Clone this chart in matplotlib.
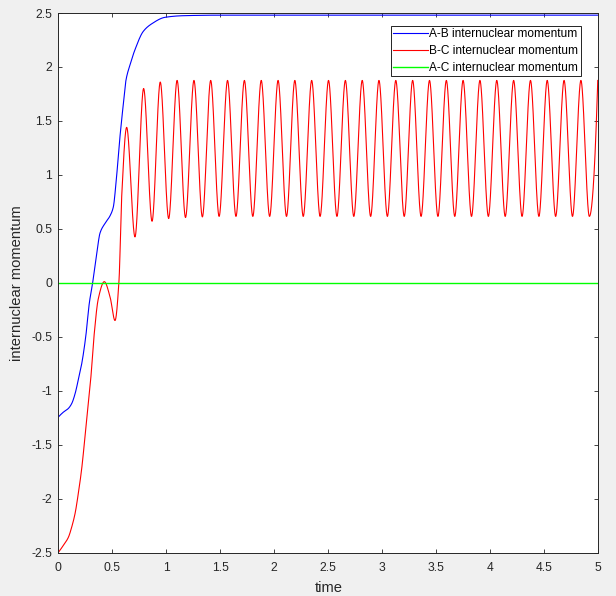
import numpy as np
import matplotlib
matplotlib.use("Agg")
import matplotlib.pyplot as plt

# ---------------- data ----------------
# A-B internuclear momentum (blue): knot points (time, value)
ab_t = [0.0, 0.046, 0.093, 0.124, 0.155, 0.185, 0.217, 0.254, 0.287, 0.318,
        0.356, 0.386, 0.432, 0.479, 0.509, 0.534, 0.565, 0.596, 0.627, 0.664,
        0.710, 0.787, 0.865, 0.988, 1.157, 1.5, 5.0]
ab_v = [-1.245, -1.20, -1.165, -1.12, -1.03, -0.90, -0.75, -0.50, -0.19, 0.0,
        0.27, 0.46, 0.55, 0.62, 0.70, 0.92, 1.29, 1.60, 1.88, 2.02,
        2.16, 2.33, 2.40, 2.46, 2.475, 2.48, 2.48]

# B-C internuclear momentum (red): early part knots
bc_early_t = [0.0, 0.046, 0.093, 0.124, 0.155, 0.185, 0.217, 0.247, 0.278,
              0.303, 0.333, 0.370, 0.426, 0.479, 0.525, 0.562, 0.587]
bc_early_v = [-2.5, -2.435, -2.36, -2.265, -2.14, -1.955, -1.72, -1.43, -1.13,
              -0.86, -0.47, -0.15, 0.01, -0.13, -0.35, 0.02, 0.80]
# B-C oscillation maxima
bc_peak_t = [0.633, 0.79, 0.944, 1.100, 1.256, 1.411, 1.567, 1.723, 1.879,
             2.035, 2.190, 2.346, 2.502, 2.658, 2.814, 2.969, 3.125, 3.281,
             3.437, 3.593, 3.748, 3.904, 4.060, 4.216, 4.372, 4.527, 4.683,
             4.839, 4.995]
bc_peak_v = [1.44, 1.80, 1.86, 1.875, 1.875, 1.875, 1.875, 1.875, 1.875,
             1.875, 1.875, 1.875, 1.875, 1.875, 1.875, 1.875, 1.875, 1.875,
             1.875, 1.875, 1.875, 1.875, 1.875, 1.875, 1.875, 1.875, 1.875,
             1.875, 1.875]
# B-C oscillation minima
bc_trough_t = [0.710, 0.868, 1.022, 1.178, 1.334, 1.489, 1.645, 1.801, 1.957,
               2.113, 2.268, 2.424, 2.580, 2.736, 2.892, 3.047, 3.203, 3.359,
               3.515, 3.671, 3.826, 3.982, 4.138, 4.294, 4.450, 4.605, 4.761,
               4.917]
bc_trough_v = [0.425, 0.57, 0.595, 0.605, 0.61, 0.615, 0.615, 0.615, 0.615,
               0.615, 0.615, 0.615, 0.615, 0.615, 0.615, 0.615, 0.615, 0.615,
               0.615, 0.615, 0.615, 0.615, 0.615, 0.615, 0.615, 0.615, 0.615,
               0.615]

# A-C internuclear momentum (green)
ac_t = [0.0, 5.0]
ac_v = [0.0, 0.0]

x_ticks = [0, 0.5, 1, 1.5, 2, 2.5, 3, 3.5, 4, 4.5, 5]
x_labels = ["0", "0.5", "1", "1.5", "2", "2.5", "3", "3.5", "4", "4.5", "5"]
y_ticks = [-2.5, -2, -1.5, -1, -0.5, 0, 0.5, 1, 1.5, 2, 2.5]
y_labels = ["-2.5", "-2", "-1.5", "-1", "-0.5", "0", "0.5", "1", "1.5", "2", "2.5"]
series_names = ["A-B internuclear momentum", "B-C internuclear momentum",
                "A-C internuclear momentum"]


# ---------------- smooth shape-preserving curve through knots ----------------
def pchip(x, y, xn):
    x = np.asarray(x, float)
    y = np.asarray(y, float)
    h = np.diff(x)
    d = np.diff(y) / h
    n = len(x)
    m = np.zeros(n)
    for k in range(1, n - 1):
        if d[k - 1] * d[k] > 0:
            w1 = 2 * h[k] + h[k - 1]
            w2 = h[k] + 2 * h[k - 1]
            m[k] = (w1 + w2) / (w1 / d[k - 1] + w2 / d[k])
    def endslope(h0, h1, d0, d1):
        s = ((2 * h0 + h1) * d0 - h0 * d1) / (h0 + h1)
        if np.sign(s) != np.sign(d0):
            s = 0.0
        elif np.sign(d0) != np.sign(d1) and abs(s) > abs(3 * d0):
            s = 3 * d0
        return s
    if n > 2:
        m[0] = endslope(h[0], h[1], d[0], d[1])
        m[-1] = endslope(h[-1], h[-2], d[-1], d[-2])
    else:
        m[:] = d[0]
    idx = np.clip(np.searchsorted(x, xn) - 1, 0, n - 2)
    t = (xn - x[idx]) / h[idx]
    h00 = 2 * t**3 - 3 * t**2 + 1
    h10 = t**3 - 2 * t**2 + t
    h01 = -2 * t**3 + 3 * t**2
    h11 = t**3 - t**2
    return (h00 * y[idx] + h10 * h[idx] * m[idx] +
            h01 * y[idx + 1] + h11 * h[idx] * m[idx + 1])


bc_t = np.array(bc_early_t + bc_peak_t + bc_trough_t)
bc_v = np.array(bc_early_v + bc_peak_v + bc_trough_v)
order = np.argsort(bc_t)
bc_t, bc_v = bc_t[order], bc_v[order]

tt_ab = np.linspace(ab_t[0], ab_t[-1], 3000)
tt_bc = np.linspace(bc_t[0], bc_t[-1], 6000)

# ---------------- figure ----------------
plt.rcParams['font.family'] = ['Liberation Sans', 'DejaVu Sans']
fig = plt.figure(figsize=(6.16, 5.96), dpi=100, facecolor='#f0f0f0')
ax = fig.add_axes([58.3 / 616, 1 - 552.5 / 596, 540 / 616, 539.5 / 596])
ax.set_facecolor('white')

ax.plot(tt_ab, pchip(ab_t, ab_v, tt_ab), color=(0, 0, 1), lw=0.8,
        label=series_names[0])
ax.plot(tt_bc, pchip(bc_t, bc_v, tt_bc), color=(1, 0, 0), lw=0.8,
        label=series_names[1])
ax.plot(ac_t, ac_v, color=(0, 1, 0), lw=1.0, label=series_names[2])

ax.set_xlim(0, 5)
ax.set_ylim(-2.5, 2.5)
ax.set_xticks(x_ticks)
ax.set_xticklabels(x_labels)
ax.set_yticks(y_ticks)
ax.set_yticklabels(y_labels)

dark = '#262626'
ax.tick_params(direction='in', length=3, width=0.6, top=True, right=True,
               labelsize=8.7, colors=dark)
ax.tick_params(axis='x', pad=6.5)
ax.tick_params(axis='y', pad=4.5)
for sp in ax.spines.values():
    sp.set_color(dark)
    sp.set_linewidth(0.7)

ax.set_xlabel("time", fontsize=10.6, color=dark, labelpad=5.5)
ax.set_ylabel("internuclear momentum", fontsize=10.6, color=dark, labelpad=5)

leg = ax.legend(loc='upper right', bbox_to_anchor=(0.9674, 0.9759),
                borderaxespad=0, fontsize=8.6, handlelength=2.85,
                handletextpad=0.15, borderpad=0.2, labelspacing=0.4,
                fancybox=False, framealpha=1, edgecolor='black')
leg.get_frame().set_linewidth(0.6)

fig.savefig("out.png", dpi=100, facecolor=fig.get_facecolor())
